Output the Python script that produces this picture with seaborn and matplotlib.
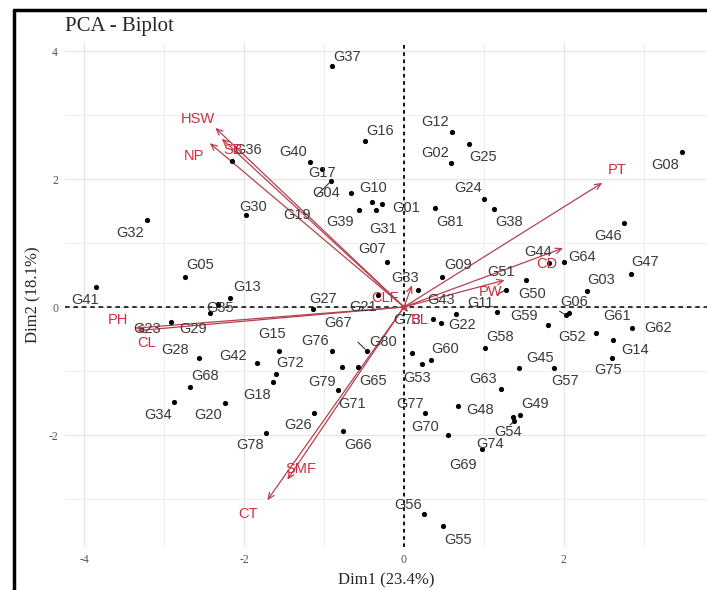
import numpy as np
import pandas as pd
import matplotlib
matplotlib.use("Agg")
import matplotlib.pyplot as plt
import seaborn as sns
from matplotlib.lines import Line2D


# genotype scores (Dim1, Dim2)
genotypes = [f"G{i:02d}" for i in range(1, 82)]

dim1 = [
    -0.28, 0.59, 2.29, -0.66, -2.74, 2.06, -0.21, 3.48, 0.48, -0.40,
    1.28, 0.60, -2.18, 2.61, -1.56, -0.49, -1.03, -1.64, -0.91, -2.24,
    -0.33, 0.46, -2.91, 1.00, 0.81, -1.13, -1.14, -2.56, -2.43, -1.98,
    -0.35, -3.21, 0.18, -2.88, -2.33, -2.15, -0.90, 1.13, -0.56, -1.18,
    -3.85, -1.84, 0.65, 1.81, 1.44, 2.75, 2.84, 0.68, 1.45, 2.03,
    1.53, 1.80, 0.23, 1.36, 0.49, 0.25, 1.88, 1.01, 1.16, 0.34,
    2.40, 2.85, 1.21, 2.00, -0.58, -0.76, -0.46, -2.68, 0.98, 0.55,
    -0.83, -1.60, 0.36, 1.38, 2.60, -0.90, 0.26, -1.73, -0.78, 0.10,
    0.39,
]

dim2 = [
    1.61, 2.25, 0.25, 1.78, 0.47, -0.09, 0.70, 2.42, 0.47, 1.64,
    0.27, 2.73, 0.14, -0.52, -0.69, 2.59, 2.16, -1.17, 1.97, -1.50,
    0.19, -0.25, -0.23, 1.69, 2.55, -1.66, -0.03, -0.80, -0.09, 1.44,
    1.52, 1.36, 0.27, -1.48, 0.05, 2.28, 3.77, 1.53, 1.52, 2.27,
    0.31, -0.88, -0.11, 0.69, -0.95, 1.31, 0.52, -1.55, -1.69, -0.13,
    0.42, -0.28, -0.89, -1.72, -3.42, -3.23, -0.95, -0.64, -0.08, -0.83,
    -0.41, -0.33, -1.28, 0.70, -0.94, -1.94, -0.69, -1.25, -2.22, -2.00,
    -1.30, -1.05, -0.19, -1.78, -0.80, -0.69, -1.66, -1.97, -0.94, -0.72,
    1.55,
]

# variable loadings (arrow tips)
variables = ["PT", "CD", "PW", "CLF", "BL", "HSW", "SB", "NP", "PH", "CL", "SMF", "CT"]
var_dim1 = [2.48, 1.99, 1.26, 0.10, 0.05, -2.36, -2.28, -2.43, -3.36, -3.34, -1.46, -1.71]
var_dim2 = [1.94, 0.92, 0.42, 0.34, -0.08, 2.80, 2.63, 2.56, -0.33, -0.37, -2.70, -3.02]

# label offsets in pixels (right, down), repel-style placement
geno_offsets = {
    "G01": (25, 4), "G02": (-16, -10), "G03": (14, -11), "G04": (-25, 0),
    "G05": (15, -12), "G06": (5, -11), "G07": (-15, -13), "G08": (-17, 13),
    "G09": (16, -12), "G10": (1, -14), "G11": (-26, 13), "G12": (-17, -10),
    "G13": (17, -11), "G14": (22, 10), "G15": (-7, -17), "G16": (15, -10),
    "G17": (0, 4), "G18": (-16, 13), "G19": (-34, 34), "G20": (-17, 12),
    "G21": (-15, 12), "G22": (21, 2), "G23": (-24, 7), "G24": (-16, -11),
    "G25": (14, 13), "G26": (-16, 12), "G27": (10, -10), "G28": (-24, -8),
    "G29": (-17, 16), "G30": (7, -8), "G31": (7, 19), "G32": (-17, 13),
    "G33": (-13, -12), "G34": (-16, 13), "G35": (2, 4), "G36": (16, -11),
    "G37": (15, -9), "G38": (15, 13), "G39": (-19, 12), "G40": (-17, -10),
    "G41": (-11, 13), "G42": (-24, -7), "G43": (-15, -14), "G44": (-11, -11),
    "G45": (21, -10), "G46": (-16, 13), "G47": (14, -12), "G48": (22, 4),
    "G49": (15, -11), "G50": (-34, -21), "G51": (-25, -8), "G52": (24, 12),
    "G53": (-5, 14), "G54": (-5, 15), "G55": (15, 14), "G56": (-16, -9),
    "G57": (11, 13), "G58": (15, -11), "G59": (27, 4), "G60": (14, -11),
    "G61": (21, -17), "G62": (26, 0), "G63": (-18, -10), "G64": (18, -5),
    "G65": (15, 14), "G66": (15, 14), "G67": (-29, -28), "G68": (15, -11),
    "G69": (-19, 16), "G70": (-23, -8), "G71": (14, 14), "G72": (14, -11),
    "G73": (-26, 1), "G74": (-24, 23), "G75": (-4, 12), "G76": (-17, -10),
    "G77": (-15, -9), "G78": (-16, 12), "G79": (-20, 15), "G80": (-29, -11),
    "G81": (15, 14),
}
var_offsets = {
    "PT": (15, -13), "CD": (-16, 16), "PW": (-14, 12), "CLF": (-27, 13),
    "BL": (12, 8), "HSW": (-17, -9), "SB": (11, 11), "NP": (-16, 13),
    "PH": (-17, -8), "CL": (10, 12), "SMF": (14, -11), "CT": (-19, 14),
}

W, H, DPI = 707, 590, 100
PX = 72 / DPI

sns.set_style("white")
plt.rcParams["font.family"] = ["Liberation Sans", "DejaVu Sans"]
plt.rcParams["axes.unicode_minus"] = False

fig = plt.figure(figsize=(W / DPI, H / DPI), dpi=DPI)
ax = fig.add_axes([65 / W, 43 / H, 642 / W, 504 / H])

ax.set_xlim(-4.24, 3.79)
ax.set_ylim(-3.75, 4.125)

# grid like theme_minimal
ax.set_xticks([-4, -2, 0, 2])
ax.set_yticks([-2, 0, 2, 4])
ax.set_xticks([-3, -1, 1, 3], minor=True)
ax.set_yticks([-3, -1, 1, 3], minor=True)
ax.grid(True, which="major", color="#E6E6E6", linewidth=0.9)
ax.grid(True, which="minor", color="#EFEFEF", linewidth=0.7)
ax.set_axisbelow(True)
for s in ax.spines.values():
    s.set_visible(False)

ax.tick_params(axis="both", which="major", length=3, width=0.8, color="#8a8a8a",
               labelsize=8.5, labelcolor="#555555", pad=2)
ax.tick_params(axis="both", which="minor", length=0)
for lab in ax.get_xticklabels() + ax.get_yticklabels():
    lab.set_family("Liberation Serif")

ax.axhline(0, color="black", linestyle=(0, (3, 2.5)), linewidth=1.1, zorder=1)
ax.axvline(0, color="black", linestyle=(0, (2, 2)), linewidth=1.3, zorder=1)

df = pd.DataFrame({"name": genotypes, "Dim1": dim1, "Dim2": dim2})
sns.scatterplot(data=df, x="Dim1", y="Dim2", color="black", s=14,
                linewidth=0, ax=ax, zorder=3, legend=False)

for name, x, y in zip(df["name"], df["Dim1"], df["Dim2"]):
    dx, dy = geno_offsets[name]
    far = np.hypot(dx, dy) > 28
    ax.annotate(
        name, (x, y), xytext=(dx * PX, -dy * PX), textcoords="offset points",
        ha="center", va="center", fontsize=10.5, color="#3a3a3a", zorder=4,
        arrowprops=dict(arrowstyle="-", color="#3a3a3a", lw=0.8,
                        shrinkA=9, shrinkB=2) if far else None,
    )

line_col = "#B4414F"
text_col = "#D22B40"
for name, x, y in zip(variables, var_dim1, var_dim2):
    ax.annotate("", xy=(x, y), xytext=(0, 0),
                arrowprops=dict(arrowstyle="->,head_length=0.45,head_width=0.2",
                                color=line_col, lw=0.9, shrinkA=0, shrinkB=0),
                zorder=2)
    dx, dy = var_offsets[name]
    ax.annotate(name, (x, y), xytext=(dx * PX, -dy * PX), textcoords="offset points",
                ha="center", va="center", fontsize=10.5, color=text_col, zorder=5)

ax.set_xlabel("Dim1 (23.4%)", family="Liberation Serif", fontsize=12, labelpad=5)
ax.set_ylabel("Dim2 (18.1%)", family="Liberation Serif", fontsize=12, labelpad=5)
fig.text(65 / W, 1 - 27 / H, "PCA - Biplot", family="Liberation Serif",
         fontsize=15, ha="left", va="center")

# screenshot frame
fig.add_artist(Line2D([14 / W, 14 / W], [0, 1 - 10 / H], color="black", lw=2.5,
                      transform=fig.transFigure))
fig.add_artist(Line2D([14 / W, 1], [1 - 10 / H, 1 - 10 / H], color="black", lw=2.5,
                      transform=fig.transFigure))

fig.savefig("out.png", dpi=DPI)
